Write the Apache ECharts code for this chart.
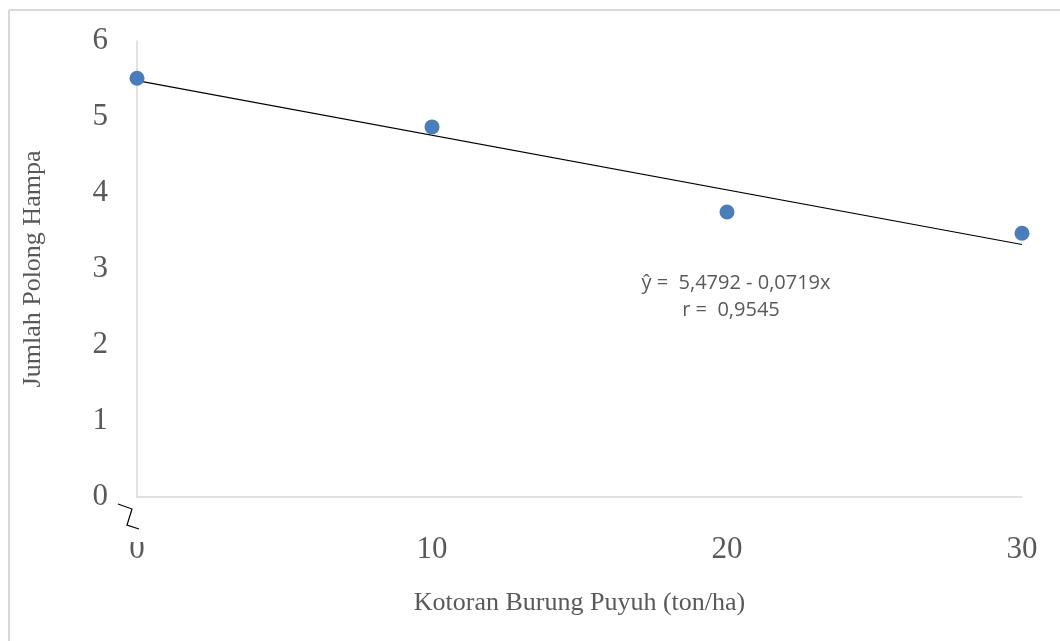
<!DOCTYPE html>
<html>
<head>
<meta charset="utf-8">
<script src="https://cdn.jsdelivr.net/npm/echarts@6/dist/echarts.min.js"></script>
<style>html,body{margin:0;padding:0;background:#fff;}#c{width:1060px;height:641px;}</style>
</head>
<body>
<div id="c"></div>
<script>
const xValues = [0, 10, 20, 30];
const yValues = [5.51, 4.87, 3.75, 3.47];
const intercept = 5.4792;
const slope = -0.0719;
const xTicks = [0, 10, 20, 30];
const yTicks = [0, 1, 2, 3, 4, 5, 6];
const equationText = 'ŷ =  5,4792 - 0,0719x';
const rText = 'r =  0,9545';
const xTitle = 'Kotoran Burung Puyuh (ton/ha)';
const yTitle = 'Jumlah Polong Hampa';

const chart = echarts.init(document.getElementById('c'));
const serif = '"Liberation Serif", "Times New Roman", serif';
const sans = '"Open Sans", "Liberation Sans", sans-serif';
const trend = [[xValues[0], intercept + slope * xValues[0]], [xValues[xValues.length-1], intercept + slope * xValues[xValues.length-1]]];

chart.setOption({
  animation: false,
  backgroundColor: '#fff',
  grid: {left: 137, top: 41, right: 38, bottom: 144},
  xAxis: {
    type: 'value', min: 0, max: 30, interval: 10,
    axisLine: {show: true, lineStyle: {color: '#d9d9d9', width: 1.5}},
    axisTick: {show: false}, splitLine: {show: false},
    axisLabel: {fontFamily: serif, fontSize: 31, color: '#595959', margin: 37},
    name: xTitle, nameLocation: 'middle', nameGap: 93,
    nameTextStyle: {fontFamily: serif, fontSize: 26, color: '#595959'}
  },
  yAxis: {
    type: 'value', min: 0, max: 6, interval: 1,
    axisLine: {show: true, lineStyle: {color: '#d9d9d9', width: 1.5}},
    axisTick: {show: false}, splitLine: {show: false},
    axisLabel: {fontFamily: serif, fontSize: 31, color: '#595959', margin: 29, padding: [5, 0, 0, 0]},
    name: yTitle, nameLocation: 'middle', nameGap: 91, nameRotate: 90,
    nameTextStyle: {fontFamily: serif, fontSize: 26, color: '#595959'}
  },
  series: [
    {type: 'line', data: trend, symbol: 'none', lineStyle: {color: '#000', width: 1.2}, z: 2, silent: true},
    {type: 'scatter', data: xValues.map((x, i) => [x, yValues[i]]), symbolSize: 15,
     itemStyle: {color: '#4a7ebb', opacity: 1}, z: 3}
  ],
  graphic: [
    {type: 'line', shape: {x1: 9, y1: 10, x2: 1060, y2: 10}, style: {stroke: '#d9d9d9', lineWidth: 2}},
    {type: 'line', shape: {x1: 9, y1: 10, x2: 9, y2: 641}, style: {stroke: '#d9d9d9', lineWidth: 2}},
    {type: 'rect', shape: {x: 120, y: 526, width: 30, height: 16}, style: {fill: '#fff'}, z: 100},
    {type: 'polyline', shape: {points: [[118, 504], [132, 509], [127, 525], [139, 529]]}, style: {stroke: '#000', lineWidth: 1.2, fill: null}, z: 101},
    {type: 'text', style: {text: equationText, x: 736, y: 283, align: 'center', verticalAlign: 'middle', fontFamily: sans, fontSize: 20, fill: '#595959'}, z: 50},
    {type: 'text', style: {text: rText, x: 731, y: 310, align: 'center', verticalAlign: 'middle', fontFamily: sans, fontSize: 20, fill: '#595959'}, z: 50}
  ]
});
</script>
</body>
</html>
